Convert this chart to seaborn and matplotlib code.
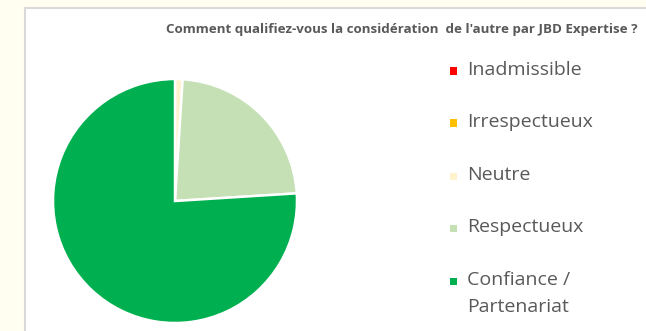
import matplotlib
matplotlib.use("Agg")
import matplotlib.pyplot as plt
from matplotlib.patches import Rectangle
import seaborn as sns

# Survey answers (share of respondents, %)
categories = ["Inadmissible", "Irrespectueux", "Neutre", "Respectueux", "Confiance /\nPartenariat"]
values = [0, 0, 1, 23, 76]
colors = ["#FF0000", "#FFC000", "#FFF2CC", "#C5E0B4", "#00B050"]
title = "Comment qualifiez-vous la considération  de l'autre par JBD Expertise ?"

sns.set_theme(style="white")
plt.rcParams["font.family"] = ["Open Sans", "DejaVu Sans"]
sns.set_palette(colors)

W, H = 646, 331
fig = plt.figure(figsize=(W / 100, H / 100), dpi=100)
fig.patch.set_facecolor("#FFFEF0")

# white chart area with a light grey frame
fig.patches.append(Rectangle((25 / W, -0.1), 1.0, (H - 8) / H + 0.1,
                             transform=fig.transFigure, facecolor="white",
                             edgecolor="#D9D9D9", linewidth=1.5, zorder=-5))

cx, cy, r = 175, 201, 122
ax = fig.add_axes([(cx - r) / W, (H - cy - r) / H, 2 * r / W, 2 * r / H])
ax.pie(values, colors=sns.color_palette(), startangle=90, counterclock=False,
       radius=1, wedgeprops=dict(edgecolor="white", linewidth=1.8))
ax.set_xlim(-1, 1)
ax.set_ylim(-1, 1)
ax.axis("off")

fig.text(401.5 / W, 1 - 29 / H, title, ha="center", va="center",
         fontsize=9.65, fontweight="bold", color="#595959")

# legend: coloured square + label, one entry per category
ys = [71, 123, 176, 228, 281]
for lab, col, y in zip(categories, colors, ys):
    fig.patches.append(Rectangle(((453 - 3.5) / W, 1 - (y + 3.5) / H), 7 / W, 7 / H,
                                 transform=fig.transFigure, facecolor=col,
                                 edgecolor="none", zorder=3))
    n = lab.count("\n")
    yc = y + n * 27 / 2
    fig.text(467 / W, 1 - (yc - 1) / H, lab, ha="left", va="center",
             fontsize=14, color="#595959", linespacing=1.65)

fig.savefig("out.png", dpi=100, facecolor=fig.get_facecolor())
